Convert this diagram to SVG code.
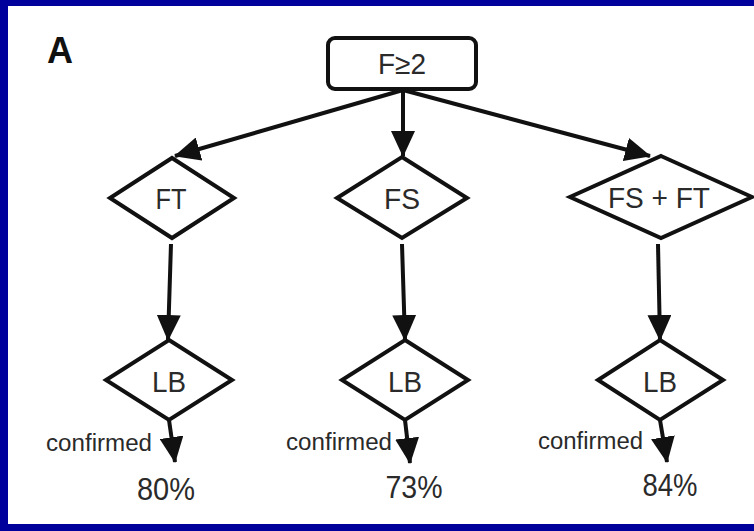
<svg xmlns="http://www.w3.org/2000/svg" width="754" height="531" viewBox="0 0 754 531">
  <defs>
    <marker id="arr" markerUnits="userSpaceOnUse" markerWidth="26" markerHeight="24" refX="25" refY="12" orient="auto">
      <path d="M0,0 L26,12 L0,24 z" fill="#111"/>
    </marker>
    <style>
      .shape { fill: #fff; stroke: #111; stroke-width: 4; stroke-linejoin: miter; }
      .edge { fill: none; stroke: #111; stroke-width: 4; marker-end: url(#arr); }
      .lbl { font-family: "Liberation Sans", Arial, sans-serif; fill: #2a2a2a; text-anchor: middle; }
      .node { font-size: 29px; }
      .conf { font-size: 23px; text-anchor: start; }
      .pct { font-size: 31px; }
    </style>
  </defs>
  <rect x="0" y="0" width="754" height="531" fill="#00009c"/>
  <rect x="8" y="6" width="746" height="518" fill="#fff"/>
  <text x="47" y="63" font-family="Liberation Sans, Arial, sans-serif" font-weight="bold" font-size="36" fill="#111">A</text>

  <g id="connectors">
    <line class="edge" x1="403" y1="90" x2="175" y2="156"/>
    <line class="edge" x1="403" y1="90" x2="403" y2="156"/>
    <line class="edge" x1="403" y1="90" x2="650" y2="156"/>
    <line class="edge" x1="171" y1="244" x2="168" y2="340"/>
    <line class="edge" x1="402" y1="244" x2="405" y2="340"/>
    <line class="edge" x1="658" y1="244" x2="660" y2="340"/>
    <line class="edge" x1="169" y1="420" x2="175" y2="462"/>
    <line class="edge" x1="405" y1="420" x2="410" y2="463"/>
    <line class="edge" x1="660" y1="420" x2="667" y2="462"/>
  </g>

  <g id="n-root">
    <rect class="shape" x="328" y="38" width="148" height="51" rx="7" ry="7" stroke-width="3.5"/>
    <text class="lbl node" x="402" y="74" textLength="48" lengthAdjust="spacingAndGlyphs">F≥2</text>
  </g>
  <g id="n-ft">
    <polygon class="shape" points="172,158 234,198 172,238 110,198"/>
    <text class="lbl node" x="171" y="209" textLength="31" lengthAdjust="spacingAndGlyphs">FT</text>
  </g>
  <g id="n-fs">
    <polygon class="shape" points="402,157 467,198 402,238 337,198"/>
    <text class="lbl node" x="402" y="209" textLength="36" lengthAdjust="spacingAndGlyphs">FS</text>
  </g>
  <g id="n-fsft">
    <polygon class="shape" points="661,156 752,197 661,238 570,197"/>
    <text class="lbl node" x="659" y="208" textLength="102" lengthAdjust="spacingAndGlyphs">FS + FT</text>
  </g>
  <g id="n-lb1">
    <polygon class="shape" points="169,340 232,380 169,420 106,380"/>
    <text class="lbl node" x="169" y="392" textLength="34" lengthAdjust="spacingAndGlyphs">LB</text>
  </g>
  <g id="n-lb2">
    <polygon class="shape" points="405,340 468,380 405,420 342,380"/>
    <text class="lbl node" x="405" y="392" textLength="34" lengthAdjust="spacingAndGlyphs">LB</text>
  </g>
  <g id="n-lb3">
    <polygon class="shape" points="660,340 723,380 660,420 598,380"/>
    <text class="lbl node" x="660" y="392" textLength="34" lengthAdjust="spacingAndGlyphs">LB</text>
  </g>

  <g id="results">
    <text class="lbl conf" x="46" y="451" textLength="106" lengthAdjust="spacingAndGlyphs">confirmed</text>
    <text class="lbl pct" x="166" y="500" textLength="58" lengthAdjust="spacingAndGlyphs">80%</text>
    <text class="lbl conf" x="286" y="450" textLength="106" lengthAdjust="spacingAndGlyphs">confirmed</text>
    <text class="lbl pct" x="414" y="498" textLength="57" lengthAdjust="spacingAndGlyphs">73%</text>
    <text class="lbl conf" x="538" y="449" textLength="105" lengthAdjust="spacingAndGlyphs">confirmed</text>
    <text class="lbl pct" x="670" y="496" textLength="55" lengthAdjust="spacingAndGlyphs">84%</text>
  </g>
</svg>
